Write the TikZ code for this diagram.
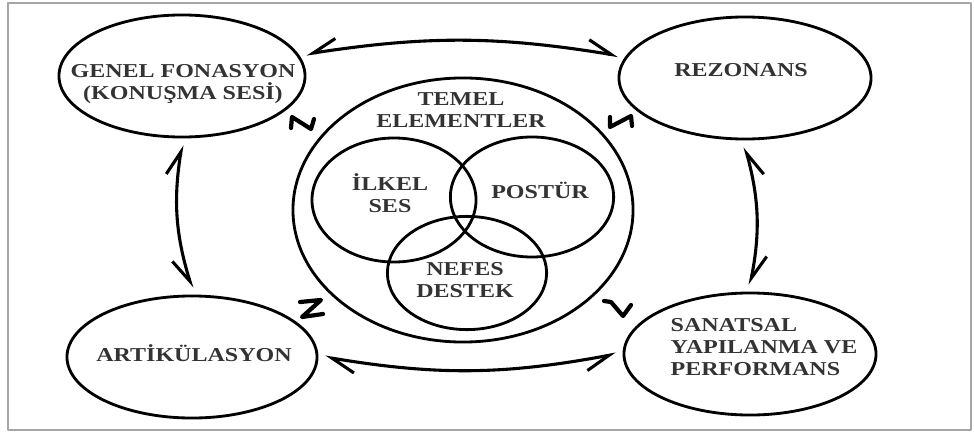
\documentclass[tikz,border=0pt]{standalone}
\usepackage{fontspec}
\setmainfont{Liberation Serif}[FakeStretch=1.22]
\usetikzlibrary{shapes.geometric,arrows.meta}
\tikzset{
	oval/.style={draw, ellipse, line width=2pt, inner sep=0pt, outer sep=0.2cm},
	ring/.style={draw, ellipse, line width=2pt, inner sep=0pt},
	lbl/.style={font=\fontsize{14}{15.5}\selectfont\bfseries, text=black!80, align=center},
	twoway/.style={line width=2.2pt, {Straight Barb[harpoon,swap,length=6mm,width=5.5mm]}-{Straight Barb[harpoon,length=6mm,width=5.5mm]}},
	zig/.style={line width=3pt, line join=round, line cap=round}
}
\begin{document}
\begin{tikzpicture}[x=0.025cm, y=0.025cm, line join=round, line cap=round]
	\useasboundingbox (0,0) rectangle (974,-433);
	\draw[gray!70, line width=1.2pt] (8,-3) rectangle (971,-430);
	% dort kose
	\node[oval, minimum width=6.15cm, minimum height=3.05cm] (genel) at (182,-76) {};
	\node[oval, minimum width=6.3cm, minimum height=3.05cm] (rez) at (745,-78) {};
	\node[oval, minimum width=6.25cm, minimum height=3.05cm] (art) at (192,-357) {};
	\node[oval, minimum width=6.3cm, minimum height=3.05cm] (san) at (750,-354) {};
	\node[lbl] (genelt) at (183,-84) {GENEL FONASYON\\(KONUŞMA SESİ)};
	\node[lbl] (rezt) at (741,-70) {REZONANS};
	\node[lbl] (artt) at (194,-353) {ARTİKÜLASYON};
	\node[lbl, align=left] (sant) at (764,-347) {SANATSAL\\YAPILANMA VE\\PERFORMANS};
	% orta
	\node[ring, minimum width=8.5cm, minimum height=6.6cm] (temel) at (463,-210) {};
	\node[ring, minimum width=4.1cm, minimum height=3.1cm] (ilkel) at (394,-200) {};
	\node[ring, minimum width=4.08cm, minimum height=3.0cm] (postur) at (532,-197) {};
	\node[ring, minimum width=3.98cm, minimum height=2.83cm] (nefes) at (467,-273) {};
	\node[lbl] (temelt) at (461,-110) {TEMEL\\ELEMENTLER};
	\node[lbl] (ilkelt) at (390,-193) {İLKEL\\SES};
	\node[lbl] (posturt) at (540,-190) {POSTÜR};
	\node[lbl] (nefest) at (465,-280) {NEFES\\DESTEK};
	% oklar
	\draw[twoway] (genel.10) to[bend left=9] (rez.170);
	\draw[twoway] (rez.south) to[bend left=13] (san.north);
	\draw[twoway] (san.west) to[bend left=10] (art.east);
	\draw[twoway] (art.north) to[bend left=13] (genel.south);
	% isaretler
	\draw[zig] (291,-128) -- (292,-117) -- (311,-129) -- (314,-119);
	\draw[zig] (610,-117) -- (610,-127) -- (631,-116) -- (632,-126);
	\draw[zig] (300,-302) -- (321,-300) -- (302,-317) -- (323,-314);
	\draw[zig] (604,-301) -- (611,-302) -- (623,-316) -- (631,-305);
\end{tikzpicture}
\end{document}
